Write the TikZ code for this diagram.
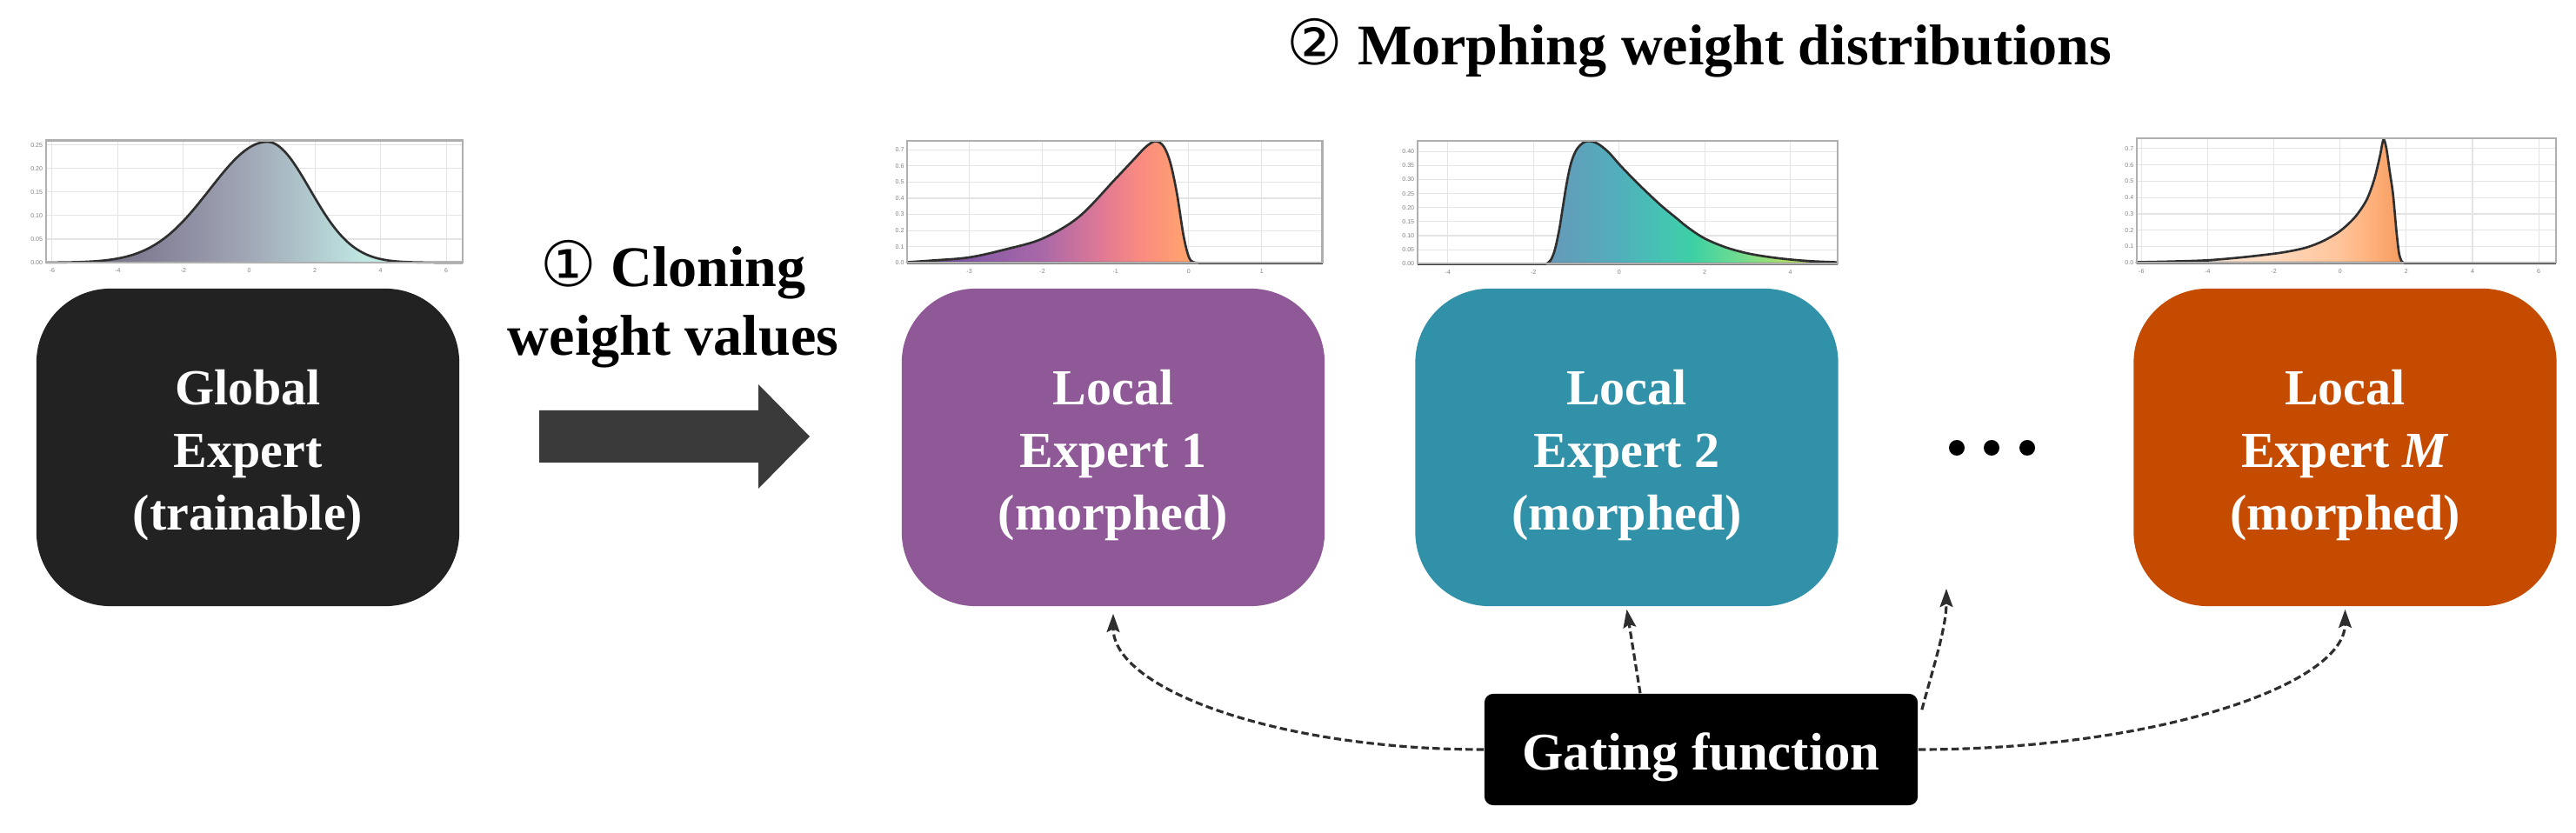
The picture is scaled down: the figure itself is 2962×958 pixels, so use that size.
\documentclass[tikz,border=0pt]{standalone}
\usepackage{fontspec}
\setmainfont{Liberation Serif}
\newfontfamily\symfont{DejaVu Sans}
\newfontfamily\tickfont{Liberation Sans}
\usetikzlibrary{arrows.meta,calc}

\definecolor{globalc}{HTML}{222222}
\definecolor{loconec}{HTML}{8F5896}
\definecolor{loctwoc}{HTML}{3191A9}
\definecolor{locmc}{HTML}{C54B00}
\definecolor{arrowc}{HTML}{3A3A3A}
\definecolor{dashc}{HTML}{2E2E2E}
\definecolor{gridc}{HTML}{E4E4E4}
\definecolor{framec}{HTML}{AFAFAF}
\definecolor{curvec}{HTML}{2F2F2F}
\definecolor{tickc}{HTML}{808080}

% global distribution colours
\definecolor{gA}{HTML}{6A6578}
\definecolor{gB}{HTML}{858298}
\definecolor{gC}{HTML}{A0A6B5}
\definecolor{gD}{HTML}{B3CFD2}
\definecolor{gE}{HTML}{C0E6E2}
\definecolor{gF}{HTML}{C8EEEA}
% local 1 colours
\definecolor{aA}{HTML}{5E3F8F}
\definecolor{aB}{HTML}{8A5BA6}
\definecolor{aC}{HTML}{A868A8}
\definecolor{aD}{HTML}{DE7896}
\definecolor{aE}{HTML}{FA8A80}
\definecolor{aF}{HTML}{FFA070}
\definecolor{aG}{HTML}{FFA86A}
% local 2 colours
\definecolor{bA}{HTML}{6798B8}
\definecolor{bB}{HTML}{52AEBC}
\definecolor{bC}{HTML}{45C4B4}
\definecolor{bD}{HTML}{3DD0A4}
\definecolor{bE}{HTML}{70DC90}
\definecolor{bF}{HTML}{A8E070}
\definecolor{bG}{HTML}{D4E044}
% local M colours
\definecolor{mA}{HTML}{FFF1E8}
\definecolor{mB}{HTML}{FFD9BE}
\definecolor{mC}{HTML}{FFC49A}
\definecolor{mD}{HTML}{FFB07A}
\definecolor{mE}{HTML}{F39A5E}

\pgfdeclarehorizontalshading{gshade}{100bp}{color(0bp)=(gA); color(25bp)=(gA); color(38bp)=(gB); color(49bp)=(gC); color(58bp)=(gD); color(63bp)=(gE); color(75bp)=(gF); color(100bp)=(gF)}
\pgfdeclarehorizontalshading{ashade}{100bp}{color(0bp)=(aA); color(25bp)=(aA); color(37bp)=(aB); color(48bp)=(aC); color(58bp)=(aD); color(65bp)=(aE); color(72bp)=(aF); color(75bp)=(aG); color(100bp)=(aG)}
\pgfdeclarehorizontalshading{bshade}{100bp}{color(0bp)=(bA); color(25bp)=(bA); color(37bp)=(bB); color(45bp)=(bC); color(50bp)=(bD); color(58bp)=(bE); color(65bp)=(bF); color(75bp)=(bG); color(100bp)=(bG)}
\pgfdeclarehorizontalshading{mshade}{100bp}{color(0bp)=(mA); color(25bp)=(mA); color(50bp)=(mB); color(63bp)=(mC); color(69bp)=(mD); color(75bp)=(mE); color(100bp)=(mE)}

\tikzset{
  expertbox/.style={rectangle, rounded corners=0.85cm, minimum width=4.86cm, minimum height=3.65cm, inner sep=0pt},
  experttext/.style={text=white, font=\fontsize{16.5}{20.5}\selectfont\bfseries, align=center, inner sep=0pt},
  gatebox/.style={fill=black, rounded corners=0.1cm, minimum width=4.98cm, minimum height=1.28cm, inner sep=0pt, text=white, font=\fontsize{17.3}{20}\selectfont\bfseries, text height=0.46cm, text depth=0pt},
  headlabel/.style={font=\fontsize{18.8}{22.5}\selectfont\bfseries, align=center, inner sep=0pt},
  gridline/.style={draw=gridc, line width=0.3pt},
  plotframe/.style={draw=framec, line width=0.6pt},
  curve/.style={draw=curvec, line width=0.75pt, line join=round},
  ticklbl/.style={font=\tickfont\fontsize{2}{2.4}\selectfont, text=tickc, inner sep=0pt},
  gatearrow/.style={draw=dashc, line width=0.9pt, dash pattern=on 2.4pt off 1.2pt, -{Stealth[length=6pt,width=4.2pt,inset=1pt]}},
  dotmark/.style={fill=black},
}
\newcommand{\circnum}[1]{{\symfont\mdseries\fontsize{20.5}{20}\selectfont #1}}

\begin{document}
\begin{tikzpicture}[x=0.01cm, y=0.01cm]
\useasboundingbox (0,0) rectangle (2962,-958);

% ---------------- distribution plots ----------------
% global
\begin{scope}[shift={(286.5,-302)}, x=0.3775cm, y=5.4cm]
  \foreach \t in {-6,-4,...,6} \draw[gridline] (\t,0) -- (\t,0.26);
  \foreach \t in {0.05,0.1,0.15,0.2,0.25} \draw[gridline] (-6.19,\t) -- (6.5,\t);
  \shade[shading=gshade] (-6.19,0) -- plot[domain=-6.19:6.5,samples=160] (\x,{0.257*exp(-(\x-0.55)*(\x-0.55)/(2*((\x<0.55)?3.06:1.69)))}) -- (6.5,0) -- cycle;
  \draw[curve] plot[domain=-6.19:6.5,samples=160] (\x,{0.257*exp(-(\x-0.55)*(\x-0.55)/(2*((\x<0.55)?3.06:1.69)))});
  \draw[plotframe] (-6.19,0) rectangle (6.5,0.26);
  \foreach \t [count=\i] in {-6,-4,...,6} \node[ticklbl] (gx\i) at (\t,0) [yshift=-0.095cm] {\t};
  \foreach \v/\l [count=\i] in {0/0.00,0.05/0.05,0.1/0.10,0.15/0.15,0.2/0.20,0.25/0.25} \node[ticklbl, anchor=east] (gy\i) at (-6.19,\v) [xshift=-0.03cm] {\l};
\end{scope}

% local 1
\begin{scope}[shift={(1366.7,-302.3)}, x=0.84cm, y=1.857cm]
  \foreach \t in {-3,...,1} \draw[gridline] (\t,0) -- (\t,0.756);
  \foreach \t in {0.1,0.2,...,0.7} \draw[gridline] (-3.85,\t) -- (1.83,\t);
  \shadedraw[shading=ashade, curve] plot[smooth, tension=0.55] coordinates {(-3.85,0.004) (-3.5,0.015) (-3,0.034) (-2.5,0.084) (-2,0.15) (-1.5,0.285) (-1,0.52) (-0.75,0.64) (-0.58,0.72) (-0.45,0.753) (-0.34,0.72) (-0.25,0.62) (-0.16,0.43) (-0.07,0.17) (0,0.04) (0.06,0.005) (0.13,0)} -- (-3.85,0) -- cycle;
  \draw[curve] (0.13,0) -- (1.83,0);
  \draw[plotframe] (-3.85,0) rectangle (1.83,0.756);
  \foreach \t [count=\i] in {-3,...,1} \node[ticklbl] (ax\i) at (\t,0) [yshift=-0.095cm] {\t};
  \foreach \v/\l [count=\i] in {0/0.0,0.1/0.1,0.2/0.2,0.3/0.3,0.4/0.4,0.5/0.5,0.6/0.6,0.7/0.7} \node[ticklbl, anchor=east] (ay\i) at (-3.85,\v) [xshift=-0.03cm] {\l};
\end{scope}

% local 2
\begin{scope}[shift={(1861.7,-303.3)}, x=0.492cm, y=3.225cm]
  \foreach \t in {-4,-2,...,4} \draw[gridline] (\t,0) -- (\t,0.437);
  \foreach \t in {0.05,0.1,0.15,0.2,0.25,0.3,0.35,0.4} \draw[gridline] (-4.71,\t) -- (5.1,\t);
  \shadedraw[shading=bshade, curve] plot[smooth, tension=0.55] coordinates {(-1.7,0) (-1.6,0.012) (-1.5,0.05) (-1.4,0.12) (-1.32,0.196) (-1.22,0.29) (-1.12,0.36) (-1.0,0.405) (-0.85,0.43) (-0.71,0.437) (-0.5,0.428) (-0.25,0.398) (0,0.355) (0.3,0.307) (0.64,0.256) (1,0.205) (1.32,0.165) (1.6,0.13) (2,0.09) (2.5,0.058) (3,0.037) (3.5,0.024) (4,0.015) (4.5,0.009) (5.1,0.005)} -- (5.1,0) -- cycle;
  \draw[curve] (-4.71,0) -- (-1.7,0);
  \draw[plotframe] (-4.71,0) rectangle (5.1,0.437);
  \foreach \t [count=\i] in {-4,-2,...,4} \node[ticklbl] (bx\i) at (\t,0) [yshift=-0.095cm] {\t};
  \foreach \v/\l [count=\i] in {0/0.00,0.05/0.05,0.1/0.10,0.15/0.15,0.2/0.20,0.25/0.25,0.3/0.30,0.35/0.35,0.4/0.40} \node[ticklbl, anchor=east] (by\i) at (-4.71,\v) [xshift=-0.03cm] {\l};
\end{scope}

% local M
\begin{scope}[shift={(2690.7,-302.3)}, x=0.3805cm, y=1.876cm]
  \foreach \t in {-6,-4,...,6} \draw[gridline] (\t,0) -- (\t,0.762);
  \foreach \t in {0.1,0.2,...,0.7} \draw[gridline] (-6.14,\t) -- (6.53,\t);
  \shadedraw[shading=mshade, curve] plot[smooth, tension=0.5] coordinates {(-6.14,0.004) (-5,0.009) (-4,0.016) (-3,0.033) (-2,0.056) (-1.5,0.072) (-1,0.095) (-0.5,0.135) (0,0.195) (0.45,0.28) (0.8,0.385) (1.03,0.51) (1.2,0.65) (1.31,0.755) (1.4,0.70) (1.5,0.56) (1.6,0.42) (1.7,0.2) (1.78,0.06) (1.86,0.01) (1.93,0)} -- (-6.14,0) -- cycle;
  \draw[curve] (1.93,0) -- (6.53,0);
  \draw[plotframe] (-6.14,0) rectangle (6.53,0.762);
  \foreach \t [count=\i] in {-6,-4,...,6} \node[ticklbl] (mx\i) at (\t,0) [yshift=-0.095cm] {\t};
  \foreach \v/\l [count=\i] in {0/0.0,0.1/0.1,0.2/0.2,0.3/0.3,0.4/0.4,0.5/0.5,0.6/0.6,0.7/0.7} \node[ticklbl, anchor=east] (my\i) at (-6.14,\v) [xshift=-0.03cm] {\l};
\end{scope}

% ---------------- expert boxes ----------------
\node[expertbox, fill=globalc] (global) at (285,-514.5) {};
\node[expertbox, fill=loconec] (loc1) at (1280,-514.5) {};
\node[expertbox, fill=loctwoc] (loc2) at (1870.5,-514.5) {};
\node[expertbox, fill=locmc] (locm) at (2696.5,-514.5) {};

\node[experttext] (globaltxt) at (285,-523.5) {Global\\Expert\\(trainable)};
\node[experttext] (loc1txt) at (1280,-523.5) {Local\\Expert 1\\(morphed)};
\node[experttext] (loc2txt) at (1870.5,-523.5) {Local\\Expert 2\\(morphed)};
\node[experttext] (locmtxt) at (2696.5,-523.5) {Local\\Expert \textit{M}\\(morphed)};

% ---------------- cloning arrow ----------------
\fill[arrowc] (620,-472) -- (872,-472) -- (872,-442) -- (931,-502) -- (872,-562) -- (872,-532) -- (620,-532) -- cycle;

% ---------------- labels ----------------
\node[headlabel] (clonelbl) at (774,-350) {\circnum{①} Cloning\\weight values};
\node[headlabel, anchor=base] (morphlbl) at (1954,-75) {\circnum{②} Morphing weight distributions};

% ---------------- dots ----------------
\fill[dotmark] (2250,-515) circle (9);
\fill[dotmark] (2290,-515) circle (9);
\fill[dotmark] (2331,-515) circle (9);
\coordinate (dotstip) at (2238,-677);

% ---------------- gating ----------------
\node[gatebox] (gate) at (1956,-862) {Gating function};

\coordinate (t1) at ($(loc1.south)+(0,-8)$);
\coordinate (t2) at ($(loc2.south)+(0,-3)$);
\coordinate (tm) at ($(locm.south)+(0,-3)$);
\coordinate (s2) at ($(gate.north)+(-70,0)$);
\coordinate (sd) at ($(gate.north east)+(4,-19)$);

\draw[gatearrow] (gate.west) .. controls +(-236,0) and +(0,-87) .. (t1);
\draw[gatearrow] (s2) -- (t2);
\draw[gatearrow] (sd) .. controls +(12,45) and +(0,-45) .. (dotstip);
\draw[gatearrow] (gate.east) .. controls +(272,0) and +(0,-87) .. (tm);

\end{tikzpicture}
\end{document}
